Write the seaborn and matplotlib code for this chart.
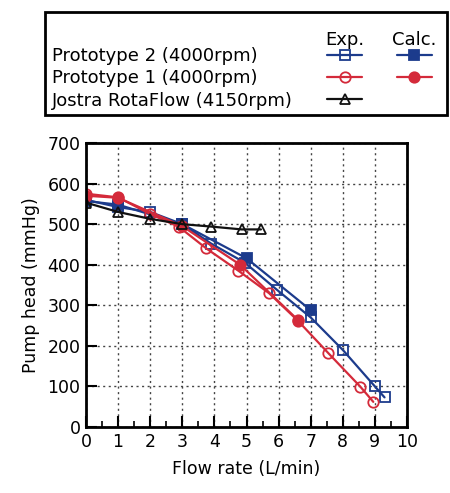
import matplotlib
matplotlib.use("Agg")
import matplotlib.pyplot as plt
from matplotlib.patches import Rectangle
from matplotlib.ticker import MultipleLocator
import pandas as pd
import seaborn as sns

# Prototype 2 (4000 rpm)
proto2_exp_flow = [0, 1, 2, 3, 3.9, 4.95, 5.95, 7, 8, 9, 9.3]
proto2_exp_head = [560, 542, 530, 500, 452, 405, 338, 270, 190, 100, 73]
proto2_calc_flow = [0, 1, 3, 5, 7]
proto2_calc_head = [557, 548, 500, 416, 288]

# Prototype 1 (4000 rpm)
proto1_exp_flow = [0, 1, 2, 2.9, 3.75, 4.75, 5.7, 6.6, 7.55, 8.55, 8.95]
proto1_exp_head = [575, 566, 525, 493, 440, 385, 330, 262, 182, 99, 62]
proto1_calc_flow = [0, 1, 3, 4.8, 6.6]
proto1_calc_head = [570, 565, 495, 400, 264]

# Jostra RotaFlow (4150 rpm)
jostra_exp_flow = [0, 1, 2, 3, 3.9, 4.85, 5.45]
jostra_exp_head = [553, 530, 513, 500, 494, 487, 487]

legend_labels = ["Prototype 2 (4000rpm)", "Prototype 1 (4000rpm)", "Jostra RotaFlow (4150rpm)"]
legend_headers = ["Exp.", "Calc."]

BLUE = "#1c3b8c"
RED = "#d42a3a"
BLACK = "#111111"

sns.set_style("ticks")
plt.rcParams["font.family"] = ["DejaVu Sans"]
plt.rcParams["font.size"] = 12
plt.rcParams["text.color"] = "black"
plt.rcParams["axes.labelcolor"] = "black"

W, H = 450, 493
fig = plt.figure(figsize=(W / 100, H / 100), dpi=100)
ax = fig.add_axes([86 / W, 1 - 427 / H, (407 - 86) / W, (427 - 143) / H])

series = [
    ("p2_exp", proto2_exp_flow, proto2_exp_head, BLUE, "s", "none"),
    ("p2_calc", proto2_calc_flow, proto2_calc_head, BLUE, "s", BLUE),
    ("p1_exp", proto1_exp_flow, proto1_exp_head, RED, "o", "none"),
    ("p1_calc", proto1_calc_flow, proto1_calc_head, RED, "o", RED),
    ("jostra", jostra_exp_flow, jostra_exp_head, BLACK, "^", "none"),
]

handles = {}
for name, flow, head, color, marker, face in series:
    df = pd.DataFrame({"flow": flow, "head": head})
    sns.lineplot(data=df, x="flow", y="head", ax=ax, sort=False, color=color,
                 lw=1.6, marker=marker, markersize=7.5, markerfacecolor=face,
                 markeredgecolor=color, markeredgewidth=1.3)
    handles[name] = ax.lines[-1]

ax.set_xlim(0, 10)
ax.set_ylim(0, 700)
ax.xaxis.set_major_locator(MultipleLocator(1))
ax.xaxis.set_minor_locator(MultipleLocator(0.5))
ax.yaxis.set_major_locator(MultipleLocator(100))
ax.tick_params(axis="both", which="major", direction="in", length=8, width=1.5,
               colors="black", labelsize=12.5, pad=4)
ax.tick_params(axis="x", which="minor", direction="in", length=4, width=1.2,
               colors="black")
ax.grid(True, which="major", linestyle=(0, (1.5, 2.5)), color="#444444", lw=1.0)
for sp in ax.spines.values():
    sp.set_linewidth(2)
    sp.set_color("black")
ax.set_xlabel("Flow rate (L/min)", fontsize=12.5, labelpad=7)
ax.set_ylabel("Pump head (mmHg)", fontsize=12.5, labelpad=5)

# legend: label column, Exp. column, Calc. column
blank = plt.Line2D([], [], lw=0, marker="")
leg_handles = [blank, blank, blank,
               handles["p2_exp"], handles["p1_exp"], handles["jostra"],
               handles["p2_calc"], handles["p1_calc"], blank]
leg_labels = legend_labels + ["", "", "", "", "", ""]


def make_legend(anchor):
    return fig.legend(leg_handles, leg_labels, ncol=3, loc="upper left",
                      bbox_to_anchor=anchor, frameon=False, fontsize=13,
                      handlelength=1.95, handletextpad=0.0, columnspacing=1.9,
                      labelspacing=0.24, borderpad=0, borderaxespad=0)


leg = make_legend((0.2, 0.95))
fig.canvas.draw()
renderer = fig.canvas.get_renderer()
inv = fig.transFigure.inverted()
bb = leg.texts[0].get_window_extent(renderer)
# shift so that first label starts at x=52 px, centred on y=56 px
dx = (52 - bb.x0) / W
dy = ((H - 56) - (bb.y0 + bb.y1) / 2) / H
leg.remove()
leg = make_legend((0.2 + dx, 0.95 + dy))
fig.canvas.draw()

lh = leg.legend_handles
for h, txt in zip([lh[3], lh[6]], legend_headers):
    hb = h.get_window_extent(renderer)
    xc, _ = inv.transform(((hb.x0 + hb.x1) / 2, 0))
    fig.text(xc, 1 - 40 / H, txt, ha="center", va="center", fontsize=13, zorder=10)

fig.patches.append(Rectangle((45 / W, 1 - 115 / H), (447 - 45) / W, (115 - 12) / H,
                             transform=fig.transFigure, fill=False,
                             edgecolor="black", lw=2))

fig.savefig("out.png", dpi=100)
